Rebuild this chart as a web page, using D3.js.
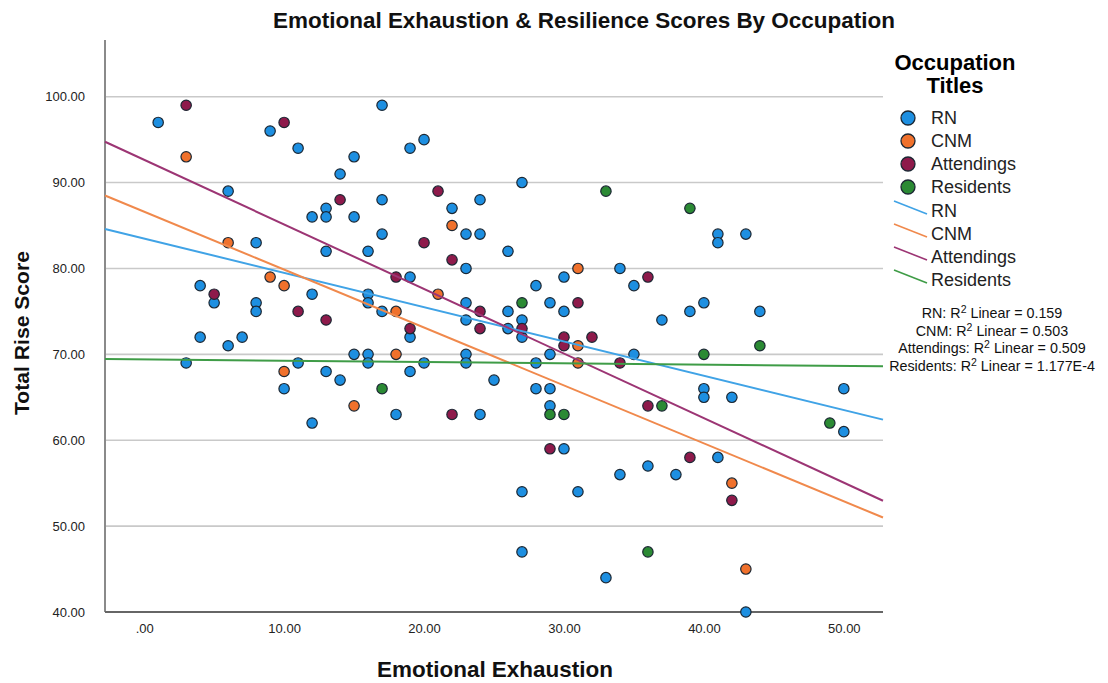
<!DOCTYPE html>
<html>
<head>
<meta charset="utf-8">
<script src="https://cdn.jsdelivr.net/npm/d3@7"></script>
<style>
body{margin:0;background:#fff;}
svg{font-family:"Liberation Sans",Arial,sans-serif;}
</style>
</head>
<body>
<svg id="chart"></svg>
<script>
// page size
var width = 1108;
var height = 683;
var plot = {left:105, right:883, top:40, bottom:612};

// data (x = Emotional Exhaustion, y = Total Rise Score)
var groups = ["RN","CNM","Attendings","Residents"];
var rnPoints = [[1,97],[9,96],[11,94],[15,93],[14,91],[6,89],[13,87],[12,86],[13,86],[15,86],[8,83],[13,82],[16,82],
	[17,99],[20,95],[19,94],[27,90],[17,88],[24,88],[22,87],[23,84],[24,84],[17,84],[26,82],[41,84],[41,83],[43,84],
	[4,78],[5,76],[12,77],[8,76],[8,75],[16,77],[16,76],[4,72],[6,71],[7,72],[3,69],[15,70],[16,70],[16,69],[11,69],
	[13,68],[14,67],[10,66],[12,62],[23,80],[19,79],[34,80],[28,78],[30,79],[17,75],[23,76],[26,75],[29,76],[30,75],
	[23,74],[27,74],[19,72],[26,73],[27,72],[29,70],[23,70],[23,69],[20,69],[28,69],[19,68],[25,67],[28,66],[29,66],
	[29,64],[18,63],[24,63],[35,78],[40,76],[39,75],[44,75],[37,74],[35,70],[40,66],[40,65],[42,65],[50,66],[50,61],
	[30,59],[34,56],[27,54],[31,54],[27,47],[33,44],[36,57],[38,56],[41,58],[43,40]];
var cnmPoints = [[3,93],[6,83],[9,79],[10,78],[10,68],[15,64],[22,85],[31,80],[21,77],[18,75],[31,71],[18,70],[31,69],[42,55],[43,45]];
var attPoints = [[3,99],[10,97],[14,88],[21,89],[20,83],[22,81],[5,77],[11,75],[13,74],[18,79],[24,75],[31,76],[19,73],
	[24,73],[27,73],[30,72],[30,71],[32,72],[34,69],[22,63],[36,79],[36,64],[29,59],[39,58],[42,53]];
var resPoints = [[33,89],[39,87],[27,76],[17,66],[29,63],[30,63],[44,71],[40,70],[37,64],[49,62],[36,47]];

// fit lines: score at the left and right edge of the plot
var fitStart = [84.6, 88.5, 94.75, 69.45];
var fitEnd = [62.4, 51.0, 52.95, 68.6];
var r2Values = ["0.159","0.503","0.509","1.177E-4"];

// axis ticks
var xTicks = [0,10,20,30,40,50];
var xTickLabels = [".00","10.00","20.00","30.00","40.00","50.00"];
var yTicks = [40,50,60,70,80,90,100];
var yTickLabels = ["40.00","50.00","60.00","70.00","80.00","90.00","100.00"];

var pointColor = ["#1d8fe1","#f0712c","#8e1a4b","#2b8a34"];
var lineColor = ["#40a3e6","#f0894c","#9c3574","#3f9c47"];
var allPoints = [rnPoints, cnmPoints, attPoints, resPoints];

var svg = d3.select("#chart")
	.attr("width", width)
	.attr("height", height);

var xScale = d3.scaleLinear().domain([-2.8, 52.8]).range([plot.left, plot.right]);
var yScale = d3.scaleLinear().domain([40, 106.6]).range([plot.bottom, plot.top]);

// grid lines
svg.append("g")
	.selectAll("line")
	.data(yTicks.slice(1))
	.enter()
	.append("line")
	.attr("x1", plot.left)
	.attr("x2", plot.right)
	.attr("y1", d => yScale(d))
	.attr("y2", d => yScale(d))
	.attr("stroke", "#c9c9c9")
	.attr("stroke-width", 1.6);

// y axis
var yAxis = d3.axisLeft(yScale)
	.tickValues(yTicks)
	.tickSize(0)
	.tickPadding(20)
	.tickFormat((d, i) => yTickLabels[i]);
svg.append("g")
	.attr("transform", "translate(" + plot.left + ",0)")
	.call(yAxis)
	.call(g => g.select(".domain").remove())
	.selectAll("text")
	.style("font-size", "13px")
	.attr("fill", "#222");

// x axis
var xAxis = d3.axisBottom(xScale)
	.tickValues(xTicks)
	.tickSize(0)
	.tickPadding(12)
	.tickFormat((d, i) => xTickLabels[i]);
svg.append("g")
	.attr("transform", "translate(0," + plot.bottom + ")")
	.call(xAxis)
	.call(g => g.select(".domain").remove())
	.selectAll("text")
	.style("font-size", "13px")
	.attr("fill", "#222");

// axis lines
svg.append("line")
	.attr("x1", plot.left).attr("x2", plot.left)
	.attr("y1", plot.top).attr("y2", plot.bottom)
	.attr("stroke", "#8a8a8a").attr("stroke-width", 2);
svg.append("line")
	.attr("x1", plot.left).attr("x2", plot.right)
	.attr("y1", plot.bottom).attr("y2", plot.bottom)
	.attr("stroke", "#666").attr("stroke-width", 2);

// points
allPoints.forEach(function(pts, i){
	svg.append("g")
		.selectAll("circle")
		.data(pts)
		.enter()
		.append("circle")
		.attr("cx", d => xScale(d[0]))
		.attr("cy", d => yScale(d[1]))
		.attr("r", 5.2)
		.attr("fill", pointColor[i])
		.attr("stroke", "#1b2733")
		.attr("stroke-width", 1.2);
});

// fit lines (on top of points)
var xd = xScale.domain();
groups.forEach(function(g, i){
	svg.append("line")
		.attr("x1", xScale(xd[0]))
		.attr("y1", yScale(fitStart[i]))
		.attr("x2", xScale(xd[1]))
		.attr("y2", yScale(fitEnd[i]))
		.attr("stroke", lineColor[i])
		.attr("stroke-width", 2);
});

// titles
svg.append("text")
	.text("Emotional Exhaustion & Resilience Scores By Occupation")
	.attr("x", 584).attr("y", 28)
	.attr("text-anchor", "middle")
	.attr("font-size", "22px")
	.attr("font-weight", "bold")
	.attr("textLength", 622)
	.attr("lengthAdjust", "spacingAndGlyphs")
	.attr("fill", "#111");
svg.append("text")
	.text("Emotional Exhaustion")
	.attr("x", 495).attr("y", 677)
	.attr("text-anchor", "middle")
	.attr("font-size", "22px")
	.attr("font-weight", "bold")
	.attr("textLength", 236)
	.attr("lengthAdjust", "spacingAndGlyphs")
	.attr("fill", "#111");
svg.append("text")
	.text("Total Rise Score")
	.attr("transform", "translate(29,333) rotate(-90)")
	.attr("text-anchor", "middle")
	.attr("font-size", "21px")
	.attr("font-weight", "bold")
	.attr("textLength", 164)
	.attr("lengthAdjust", "spacingAndGlyphs")
	.attr("fill", "#111");

// legend
var legend = svg.append("g");
legend.append("text").text("Occupation")
	.attr("x", 955).attr("y", 70)
	.attr("text-anchor", "middle")
	.attr("font-size", "22px").attr("font-weight", "bold");
legend.append("text").text("Titles")
	.attr("x", 955).attr("y", 93)
	.attr("text-anchor", "middle")
	.attr("font-size", "22px").attr("font-weight", "bold");

groups.forEach(function(g, i){
	var cy = 118 + i * 23;
	legend.append("circle")
		.attr("cx", 908).attr("cy", cy).attr("r", 7)
		.attr("fill", pointColor[i])
		.attr("stroke", "#1b2733").attr("stroke-width", 1.3);
	legend.append("text").text(g)
		.attr("x", 931).attr("y", cy + 6)
		.attr("font-size", "18px").attr("fill", "#222");

	var ly = 211 + i * 23;
	legend.append("line")
		.attr("x1", 894).attr("y1", ly - 10)
		.attr("x2", 927).attr("y2", ly + 3)
		.attr("stroke", lineColor[i]).attr("stroke-width", 1.6);
	legend.append("text").text(g)
		.attr("x", 931).attr("y", ly + 6)
		.attr("font-size", "18px").attr("fill", "#222");
});

// R2 notes
groups.forEach(function(g, i){
	var t = legend.append("text")
		.attr("x", 992).attr("y", 318 + i * 17.7)
		.attr("text-anchor", "middle")
		.attr("font-size", "14.3px").attr("fill", "#111");
	t.append("tspan").text(g + ": R");
	t.append("tspan").text("2").attr("dy", -5).attr("font-size", "10.5px");
	t.append("tspan").text(" Linear = " + r2Values[i]).attr("dy", 5);
});
</script>
</body>
</html>
